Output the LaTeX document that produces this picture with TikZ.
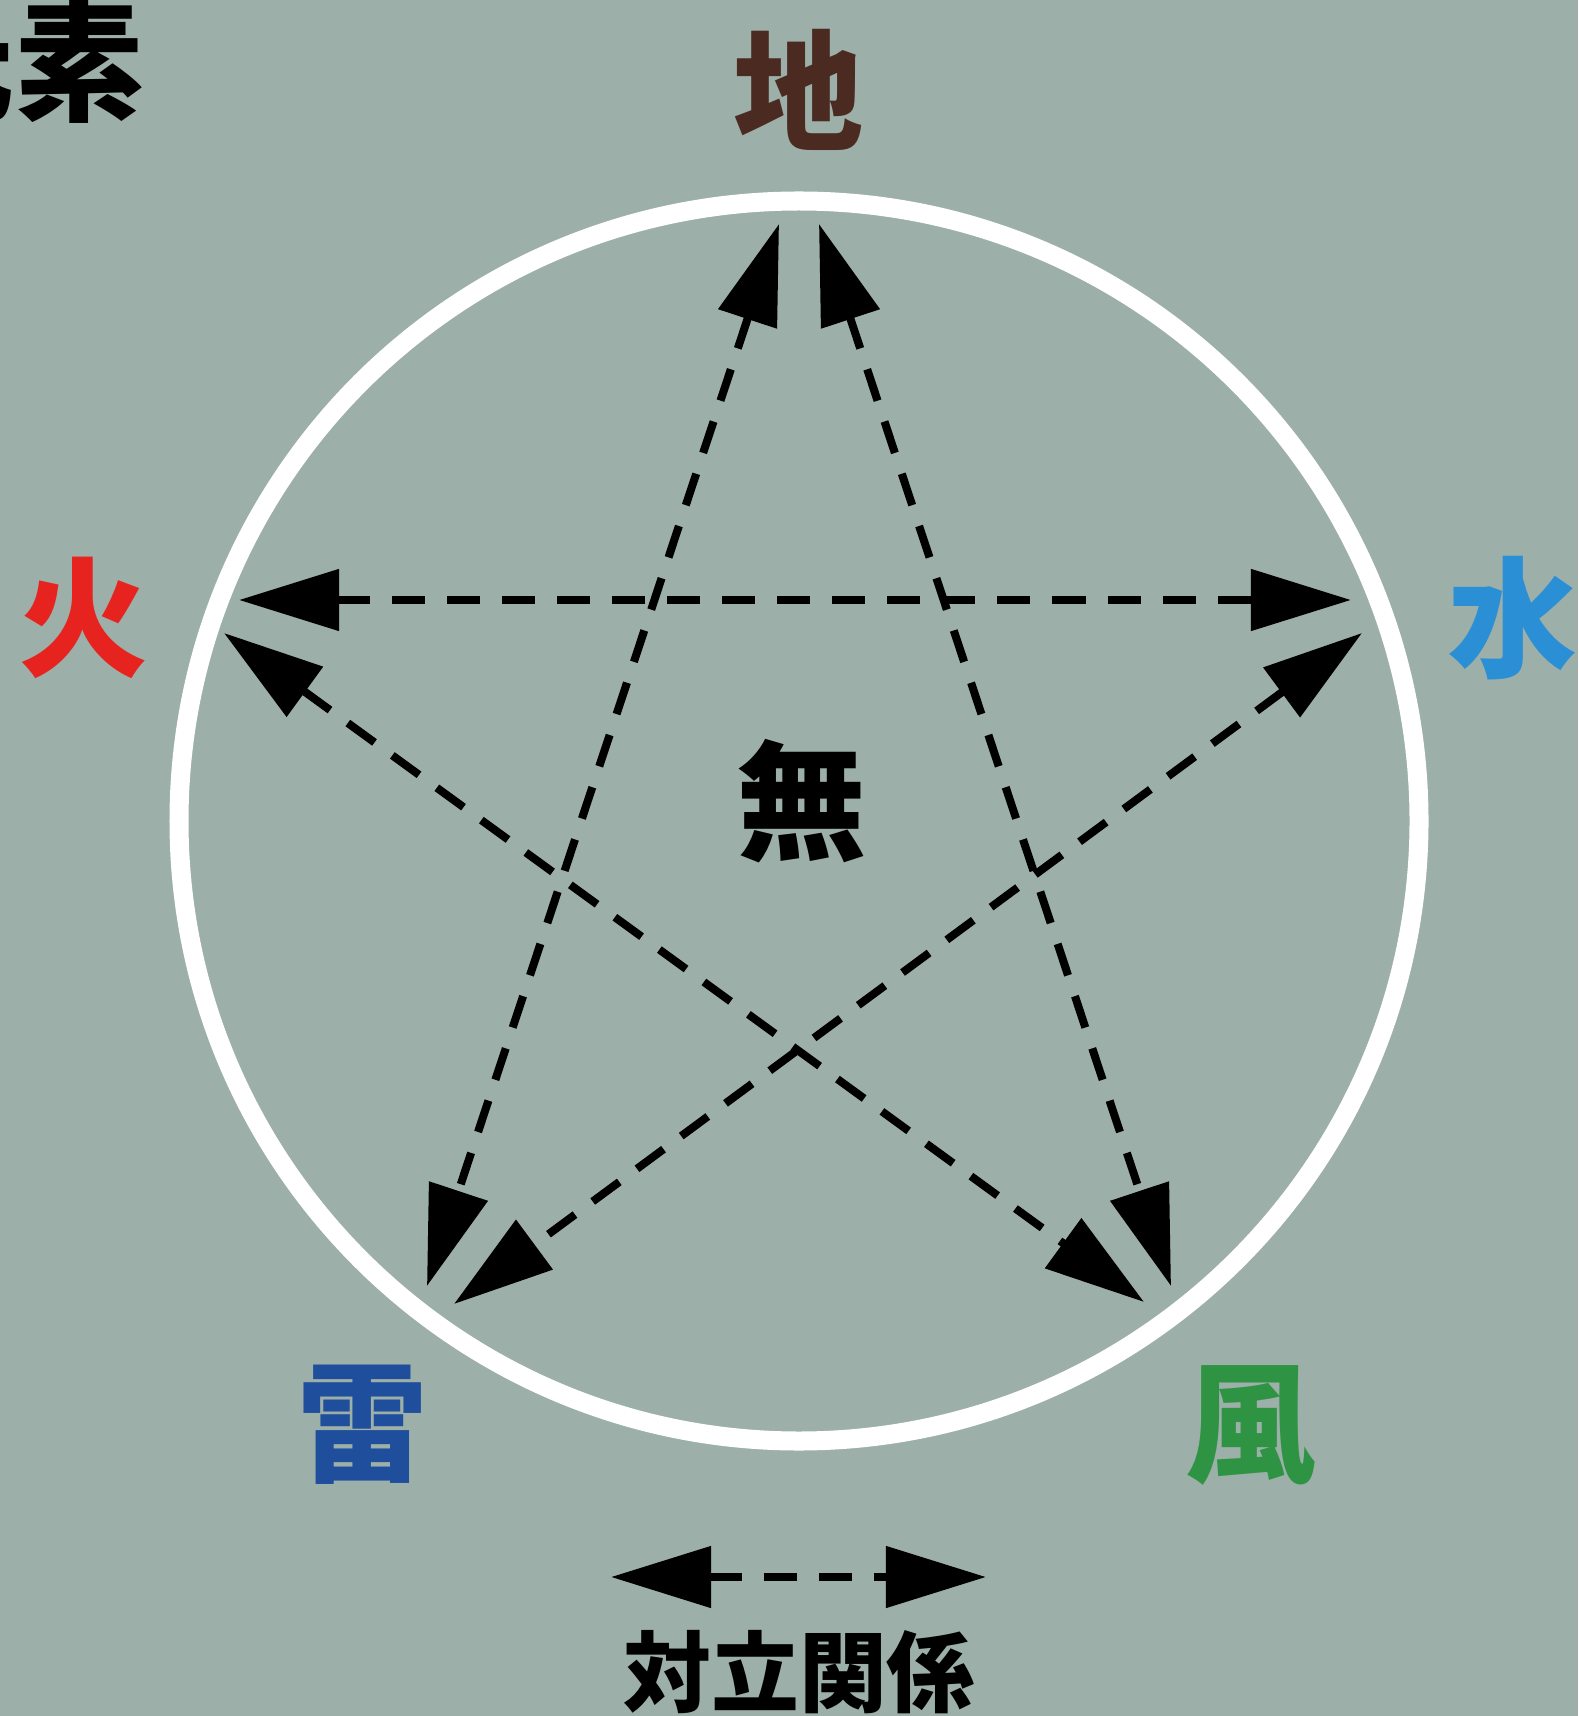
\documentclass[tikz,border=0pt]{standalone}
\usepackage{fontspec}
\usepackage{xcolor}
\usetikzlibrary{arrows.meta}
\newfontfamily\cjk{Noto Sans CJK JP}

\definecolor{bg}{RGB}{156,175,168}
\definecolor{tuchicol}{RGB}{75,42,34}
\definecolor{hicol}{RGB}{230,35,30}
\definecolor{mizucol}{RGB}{43,143,214}
\definecolor{raicol}{RGB}{30,78,156}
\definecolor{kazecol}{RGB}{46,148,68}

\tikzset{
  elem/.style={font=\cjk\bfseries\fontsize{37}{40}\selectfont,inner sep=0pt},
  rel/.style={line width=0.08cm,dash pattern=on 0.33cm off 0.22cm,
    {Triangle[length=1cm,width=0.6cm]}-{Triangle[length=1cm,width=0.6cm]}},
}

\begin{document}
\begin{tikzpicture}[x=0.01cm,y=-0.01cm]
\clip (0,0) rectangle (1578,1716);
\fill[bg] (0,0) rectangle (1578,1716);
\draw[white,line width=0.19cm] (799,821) circle (620);

\node [elem,anchor=east] (genso) at(145,62){元素};

\node [elem,text=tuchicol] (tuchi) at(799,90){地};
\node [elem,text=hicol] (hi) at(84,618){火};
\node [elem,text=mizucol] (mizu) at(1513,618){水};
\node [elem,text=raicol] (rai) at(363,1425){雷};
\node [elem,text=kazecol] (kaze) at(1251,1425){風};
\node [elem] (mu) at(802,801){無};

\coordinate (t1) at(779,224);
\coordinate (t2) at(819,224);
\coordinate (h1) at(239,600);
\coordinate (h2) at(224,633);
\coordinate (m1) at(1351,600);
\coordinate (m2) at(1362,633);
\coordinate (r1) at(427,1286);
\coordinate (r2) at(454,1304);
\coordinate (k1) at(1171,1286);
\coordinate (k2) at(1144,1302);

\draw[rel](t1) -- (r1);
\draw[rel](t2) -- (k1);
\draw[rel](h1) -- (m1);
\draw[rel](h2) -- (k2);
\draw[rel](m2) -- (r2);

\coordinate (la) at(611,1577);
\coordinate (lb) at(986,1577);
\draw[rel](la) -- (lb);
\node [font=\cjk\bfseries\fontsize{25}{28}\selectfont,inner sep=0pt] (tairitsu) at(799,1672){対立関係};
\end{tikzpicture}
\end{document}
